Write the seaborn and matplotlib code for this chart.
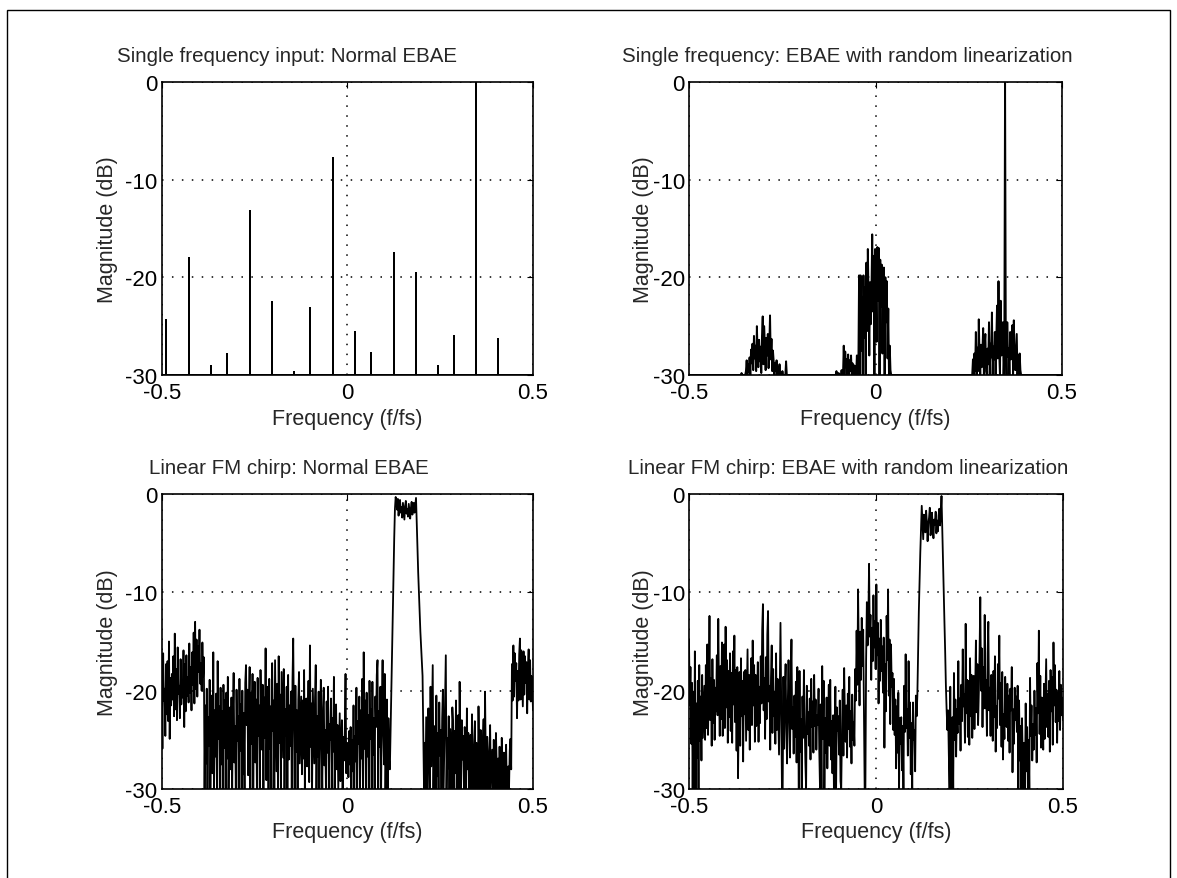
import numpy as np
import matplotlib.pyplot as plt
import seaborn as sns
from matplotlib.patches import Rectangle

# ----------------------------------------------------------------------
# Data (frequency in f/fs, magnitude in dB)
# ----------------------------------------------------------------------
FLOOR_DB = -30.0

# Panel 1: single tone, normal EBAE -> discrete spurs
spur_freq = [-0.488, -0.427, -0.367, -0.324, -0.263, -0.203, -0.143, -0.100,
             -0.039, 0.021, 0.064, 0.125, 0.184, 0.244, 0.287, 0.347, 0.407]
spur_db = [-24.4, -18.0, -29.1, -27.9, -13.2, -22.5, -29.7, -23.1,
           -7.75, -25.6, -27.7, -17.5, -19.6, -29.1, -26.0, 0.0, -26.3]

# Panel 2: single tone, random linearization (512-bin spectrum)
N_TONE = 512
tone_freq = 0.347
cluster1_start = -0.360
cluster1_db = [-29.8, -30.0, -30.0, -30.0, -30.0, -30.0, -29.6, -28.5, -30.0, -28.9, -29.7, -28.2,
               -30.0, -27.4, -28.8, -26.8, -29.5, -26.0, -28.3, -27.0, -29.6, -25.0, -27.8, -29.2,
               -26.4, -28.6, -27.1, -29.8, -26.0, -24.0, -28.9, -25.0, -27.4, -29.5, -26.2, -28.0,
               -25.8, -29.3, -27.2, -23.9, -28.4, -26.3, -29.6, -27.5, -28.6, -30.0, -28.8, -29.6,
               -28.5, -30.0, -29.2, -30.0, -28.9, -30.0, -30.0, -30.0, -29.6, -30.0, -30.0, -30.0,
               -30.0, -28.6, -30.0, -30.0]
cluster2_start = -0.105
cluster2_db = [-29.6, -30.0, -30.0, -29.8, -30.0, -30.0, -30.0, -29.5, -30.0, -30.0,
               -27.0, -30.0, -27.6, -29.2, -28.4, -30.0, -27.9, -30.0, -28.5, -29.6,
               -28.0, -30.0, -28.8, -30.0, -29.0, -30.0, -29.1, -30.0, -28.0, -30.0,
               -29.5, -19.8, -30.0, -19.8, -27.5, -22.0, -30.0, -19.8, -26.2, -21.0,
               -30.0, -18.5, -25.5, -17.1, -22.0, -28.0, -20.5, -24.8, -21.2, -15.6,
               -23.5, -17.8, -30.0, -17.1, -21.0, -26.6, -16.9, -22.4, -17.0, -30.0,
               -18.2, -23.0, -18.7, -27.8, -21.3, -19.0, -30.0, -20.0, -24.6, -20.4,
               -28.3, -23.2, -30.0, -27.0, -29.5]
cluster3_start = 0.262
cluster3_db = [-28.4, -30.0, -27.8, -29.6, -25.6, -30.0, -27.2, -29.6, -24.3, -28.1,
               -30.0, -26.9, -29.2, -27.5, -25.2, -30.0, -27.0, -25.8, -29.6, -30.0,
               -27.3, -28.9, -24.6, -30.0, -26.8, -28.2, -23.6, -30.0, -27.1, -28.4,
               -25.6, -30.0, -26.4, -22.9, -28.3, -20.4, -27.7, -30.0, -22.4, -28.0,
               -26.2, -24.6, -30.0, -27.5, -28.6, -26.9, -30.0, -24.6, -28.1, -27.3,
               -30.0, -25.6, -28.4, -27.0, -24.9, -30.0, -24.4, -28.0, -29.5, -27.6,
               -25.8, -30.0, -28.0, -30.0, -27.8, -29.5]

# Panel 3: chirp, normal EBAE (512 bins over -0.5 .. 0.5), left to right
norm_low_edge = [-17.5, -25.9, -16.2, -21.0, -19.8, -24.6, -17.3, -22.4, -17.0, -23.1,
                 -15.0, -24.9, -18.7, -21.5, -18.3, -20.9, -16.5, -22.6, -14.2, -21.9,
                 -17.8, -23.0, -15.6, -20.3, -19.5, -22.8, -16.8, -21.4, -18.9, -20.7,
                 -15.9, -23.7, -17.3, -22.1, -16.4, -20.5, -18.6, -21.2, -15.2, -20.2,
                 -17.6, -22.0, -16.1, -19.4, -14.1, -21.3, -13.0, -19.8, -14.8, -20.6,
                 -15.5, -18.1, -13.8, -19.3, -17.2, -20.0, -15.1, -18.6, -16.6]
norm_mid1 = [-30.0, -21.5, -27.4, -19.8, -30.0, -22.7, -25.6, -18.9, -30.0, -23.2,
             -20.5, -28.4, -16.1, -30.0, -22.0, -26.7, -20.3, -30.0, -17.0, -24.9,
             -21.6, -30.0, -19.7, -27.5, -22.1, -30.0, -19.4, -25.8, -21.0, -30.0,
             -20.2, -26.9, -18.6, -30.0, -23.9, -21.7, -28.0, -20.7, -30.0, -22.5,
             -18.2, -27.3, -23.6, -30.0, -19.9, -25.1, -22.6, -30.0, -18.8, -26.1,
             -21.4, -30.0, -20.0, -28.5, -22.3, -30.0, -19.2, -17.4]
norm_mid2 = [-23.5, -19.9, -28.6, -21.8, -17.6, -30.0, -20.2, -25.4, -18.3, -30.0,
             -22.4, -19.1, -27.3, -20.9, -30.0, -18.7, -24.6, -21.5, -30.0, -17.9,
             -23.3, -26.0, -19.4, -30.0, -20.7, -24.8, -15.7, -29.1, -22.1, -19.6,
             -30.0, -18.8, -25.9, -21.6, -30.0, -17.2, -24.1, -21.0, -30.0, -16.9,
             -23.0, -28.2, -19.3, -30.0, -16.5, -25.3, -20.4, -30.0, -18.1, -22.7,
             -26.8, -17.8, -30.0, -21.9, -24.6, -19.6, -30.0, -18.4, -27.0, -21.5,
             -25.6, -20.1, -30.0, -19.0, -14.7, -23.8, -30.0, -19.5, -26.2, -22.0,
             -30.0, -20.9, -18.1, -27.4]
norm_mid3 = [-23.8, -20.6, -28.5, -21.0, -26.9, -17.9, -30.0, -22.2, -20.8, -27.7,
             -24.2, -19.0, -29.3, -15.4, -25.7, -21.3, -30.0, -19.8, -23.6, -27.4,
             -20.7, -17.4, -30.0, -22.6, -26.7, -20.1, -30.0, -23.3, -18.9, -25.5,
             -30.0, -21.7, -19.7, -27.6, -24.0, -30.0, -21.1, -26.3, -19.6, -30.0,
             -23.4, -25.0, -20.8, -30.0, -22.8, -26.2, -18.6, -30.0, -24.9, -21.4,
             -28.0, -23.5, -30.0, -26.1, -22.3, -29.2, -25.8, -23.0, -30.0, -24.7,
             -27.1, -23.9, -18.3, -28.4, -25.3]
norm_mid4 = [-26.4, -28.8, -24.1, -27.5, -23.7, -30.0, -25.0, -28.2, -21.5, -30.0,
             -24.6, -27.2, -19.7, -30.0, -23.1, -25.4, -20.6, -30.0, -22.0, -26.9,
             -18.8, -30.0, -16.1, -25.9, -21.0, -30.0, -20.2, -26.7, -22.5, -30.0,
             -19.0, -24.9, -21.9, -30.0, -19.1, -26.5, -22.8, -30.0, -20.6, -23.7,
             -18.4, -16.9, -30.0, -22.1, -25.7, -19.6, -30.0, -21.4, -16.9, -24.2,
             -27.5, -18.3, -30.0, -23.5, -20.9, -30.0, -22.8, -27.1]
norm_band = [-28.0, -24.0, -20.0, -16.0, -12.0, -8.0, -4.5, -1.5,
             -0.3, -0.8, -1.6, -0.5, -2.2, -1.1, -0.6, -1.9, -1.3, -2.4,
             -0.9, -1.7, -2.6, -1.2, -0.7, -2.0, -1.5, -2.3, -1.0, -1.8,
             -2.5, -1.4, -0.8, -2.1, -1.6, -0.9, -1.9, -1.2, -0.4,
             -3.0, -5.5, -8.0, -10.0, -12.0, -14.0, -15.5, -17.0, -18.5, -24.0, -30.0]
norm_high = [-25.3, -30.0, -22.7, -26.1, -30.0, -21.8, -24.9, -30.0, -19.6, -27.7,
             -22.4, -17.4, -30.0, -23.6, -25.0, -30.0, -20.5, -28.7, -24.3, -30.0,
             -21.2, -26.6, -24.0, -30.0, -22.8, -19.9, -30.0, -25.4, -21.0, -16.4,
             -30.0, -24.8, -27.9, -22.6, -30.0, -23.9, -26.2, -30.0, -21.7, -23.3,
             -30.0, -24.1, -28.4, -21.0, -30.0, -24.2, -22.5, -30.0, -19.1, -25.8,
             -30.0, -23.0, -27.0, -24.6, -30.0, -23.7, -25.6, -30.0, -21.8, -28.0,
             -24.3, -30.0, -26.0, -24.5, -30.0, -22.4, -27.1, -30.0, -25.9, -23.1,
             -30.0, -25.3, -26.7, -30.0, -21.6, -26.8, -30.0, -24.0, -27.8, -30.0,
             -25.2, -22.9, -30.0, -20.1, -27.0, -30.0, -24.7, -26.5, -30.0, -27.2,
             -23.5, -30.0, -28.1, -26.0, -30.0, -25.0, -28.8, -30.0, -24.3, -27.4,
             -30.0, -26.9, -30.0, -25.7, -29.1, -30.0, -24.8, -27.9, -30.0, -26.3,
             -30.0, -28.6, -25.5, -30.0, -29.3, -27.7, -30.0, -26.1]
norm_high_edge = [-24.9, -28.0, -17.3, -21.0, -15.4, -20.6, -16.2, -19.0, -17.2, -22.8,
                  -18.0, -21.0, -16.3, -14.7, -20.9, -15.9, -18.8, -21.6, -16.0, -20.4,
                  -16.5, -19.2, -17.1, -22.3, -18.0, -15.8, -20.9, -16.9, -21.1, -18.5,
                  -19.6, -22.0]

# Panel 4: chirp, random linearization (512 bins over -0.5 .. 0.5), left to right
rand_r1 = [-14.8, -21.5, -17.6, -25.4, -19.2, -30.0, -20.1, -30.0, -16.0, -30.0,
           -21.3, -26.8, -19.0, -30.0, -17.4, -25.1, -20.6, -27.1, -18.4, -24.8,
           -22.0, -19.5, -25.0, -17.4, -23.8, -15.3, -24.5, -19.9, -12.4, -23.0,
           -18.7, -25.6, -16.8, -23.3, -18.9, -25.0, -19.7, -22.1]
rand_r2 = [-16.4, -22.5, -12.7, -20.1, -24.6, -17.5, -22.9, -15.1, -24.6, -19.3,
           -15.3, -23.8, -13.5, -21.7, -16.9, -25.3, -18.0, -22.7, -16.2, -24.1,
           -18.2, -25.3, -16.0, -21.4, -14.4, -23.2, -17.9, -26.1, -17.6, -28.9,
           -21.9, -18.1, -25.6, -16.7, -22.6, -19.0, -27.2, -18.1]
rand_r3 = [-22.4, -17.9, -25.1, -20.6, -15.8, -24.0, -18.4, -26.0, -19.2, -16.7,
           -23.5, -14.9, -21.5, -17.4, -25.2, -18.4, -23.6, -20.9, -17.1, -25.2,
           -19.6, -23.3, -16.5, -21.3, -13.8, -11.2, -22.0, -18.7, -24.9, -16.6,
           -22.9, -14.3, -11.9, -21.1, -19.5, -26.0, -18.7, -15.4, -24.3, -17.8,
           -22.6, -20.1, -25.4, -16.2, -24.0, -18.8, -22.6, -26.5]
rand_r4 = [-20.2, -13.1, -22.0, -30.0, -30.0, -18.6, -25.9, -20.0, -17.3, -23.8,
           -27.4, -21.2, -16.9, -22.6, -26.8, -19.0, -14.8, -23.9, -21.7, -26.4,
           -20.5, -24.7, -19.1, -27.3, -17.6, -22.3, -30.0, -18.0, -26.2, -22.9,
           -30.0, -20.6, -24.8, -17.9, -23.0, -27.3, -30.0, -19.5, -24.4, -22.2,
           -25.6, -20.8, -27.0, -18.8, -23.7, -21.1, -26.3, -18.4, -23.6, -20.9,
           -26.0, -22.5]
rand_r5 = [-23.5, -19.8, -26.1, -30.0, -21.4, -30.0, -17.5, -24.9, -19.0, -30.0,
           -22.8, -26.3, -20.7, -27.9, -23.2, -19.4, -25.6, -18.9, -27.0, -23.1,
           -28.4, -22.5, -30.0, -25.8, -19.6, -30.0, -21.7, -24.1, -22.6, -26.5,
           -21.0, -29.2, -30.0, -24.0, -19.9, -26.6, -17.7, -22.8, -25.2, -21.5,
           -26.8, -20.3, -23.9, -18.6, -25.7, -22.1, -27.4, -20.4, -25.0, -23.2]
rand_r6 = [-25.6, -17.8, -21.0, -13.9, -19.4, -9.7, -16.2, -21.5, -14.0, -18.9,
           -12.6, -17.5, -13.8, -21.9, -30.0, -30.0, -16.8, -11.0, -15.4, -13.2,
           -7.1, -14.5, -12.3, -18.9, -13.6, -17.0, -10.3, -15.6, -12.9, -17.8]
rand_r7 = [-9.2, -16.4, -13.1, -21.3, -14.7, -19.0, -12.8, -18.0, -15.5, -20.2,
           -14.6, -25.8, -17.3, -22.1, -12.4, -16.9, -9.7, -20.5, -14.8, -23.4,
           -15.3, -19.6, -18.2, -24.0]
rand_r8 = [-18.8, -24.5, -20.9, -27.9, -21.6, -26.3, -20.2, -30.0, -22.8, -25.4,
           -22.7, -28.1, -23.6, -30.0, -19.5, -24.2, -16.3, -23.8, -21.9, -26.6,
           -17.0, -24.8, -21.2, -28.5, -23.3, -30.0, -21.2, -25.0, -24.0, -28.2,
           -20.5, -22.6]
rand_band = [-20.5, -16.0, -12.0, -9.0, -6.0, -3.5, -1.2,
             -2.8, -4.6, -2.1, -3.3, -3.9, -1.7, -2.9, -4.8, -3.0, -2.4, -1.4, -4.2, -3.6,
             -1.9, -3.4, -4.5, -2.6, -3.1, -1.8, -4.0, -2.7, -3.8, -2.2, -1.5, -3.2, -2.0,
             -0.2, -3.5, -6.5, -10.0, -13.0, -16.0, -19.5, -22.0, -24.0]
rand_r10 = [-22.0, -26.5, -30.0, -19.6, -30.0, -24.1, -22.7, -30.0, -18.2, -25.0,
            -20.9, -26.7, -21.9, -24.3, -17.0, -23.4, -20.8, -26.1, -19.4, -23.1,
            -15.8, -21.6, -20.4, -25.3, -13.2, -22.3, -18.9, -24.7, -19.0, -25.5,
            -16.7, -22.6, -18.4, -24.8, -21.3, -18.5, -23.9, -20.1, -14.9, -22.2,
            -17.3, -23.5, -20.2, -16.1, -10.5, -20.0, -15.7, -23.7, -17.6, -21.8]
rand_r11 = [-12.3, -21.8, -18.9, -24.6, -16.2, -13.0, -22.0, -19.7, -24.6, -18.4,
            -21.3, -25.1, -18.0, -22.7, -16.5, -26.2, -21.6, -23.8, -17.3, -20.8,
            -14.4, -23.5, -19.2, -25.7, -18.1, -27.0, -22.4, -24.9, -18.6, -21.4,
            -23.7, -19.3, -25.1, -20.5, -26.3, -19.8, -22.0, -17.6, -28.3, -21.9,
            -25.4, -19.7, -23.0, -20.6]
rand_r12 = [-24.2, -19.5, -30.0, -21.0, -27.1, -23.6, -30.0, -22.8, -26.9, -30.0,
            -25.3, -30.0, -21.3, -28.2, -23.7, -30.0, -25.0, -30.0, -18.7, -24.6,
            -21.5, -27.1, -23.4, -26.0, -20.0, -24.5, -21.8, -27.3, -17.2, -22.3,
            -13.9, -24.4, -18.5, -25.8, -20.7, -22.6, -26.0, -19.3, -24.9, -21.1,
            -16.8, -23.7, -20.3, -24.7, -19.0, -26.2, -17.9, -22.1, -18.6, -25.5,
            -15.1, -21.5, -17.4, -23.2, -19.9, -25.3, -20.2, -23.1, -18.0, -24.0,
            -19.4, -22.5, -20.7, -23.0]

titles = ["Single frequency input: Normal EBAE",
          "Single frequency: EBAE with random linearization",
          "Linear FM chirp: Normal EBAE",
          "Linear FM chirp: EBAE with random linearization"]

# ----------------------------------------------------------------------
# Build the series
# ----------------------------------------------------------------------
# spurs: floor -> peak -> floor at each spur frequency
spur_x, spur_y = [-0.5], [FLOOR_DB]
for f, d in zip(spur_freq, spur_db):
    spur_x += [f, f, f]
    spur_y += [FLOOR_DB, d, FLOOR_DB]
spur_x.append(0.5)
spur_y.append(FLOOR_DB)

tone_f = np.linspace(-0.5, 0.5, N_TONE)
tone_db = np.full(N_TONE, FLOOR_DB)
for start, vals in [(cluster1_start, cluster1_db),
                    (cluster2_start, cluster2_db),
                    (cluster3_start, cluster3_db)]:
    i0 = int(round((start + 0.5) * (N_TONE - 1)))
    tone_db[i0:i0 + len(vals)] = vals
tone_db[int(round((tone_freq + 0.5) * (N_TONE - 1)))] = 0.0

chirp_norm = np.array(norm_low_edge + norm_mid1 + norm_mid2 + norm_mid3 + norm_mid4
                      + norm_band + norm_high + norm_high_edge)
chirp_rand = np.array(rand_r1 + rand_r2 + rand_r3 + rand_r4 + rand_r5 + rand_r6
                      + rand_r7 + rand_r8 + rand_band + rand_r10 + rand_r11 + rand_r12)
chirp_norm_f = np.linspace(-0.5, 0.5, len(chirp_norm))
chirp_rand_f = np.linspace(-0.5, 0.5, len(chirp_rand))

series = [(spur_x, spur_y), (tone_f, tone_db),
          (chirp_norm_f, chirp_norm), (chirp_rand_f, chirp_rand)]
line_w = [1.4, 1.4, 1.3, 1.3]

# ----------------------------------------------------------------------
# Plot
# ----------------------------------------------------------------------
sns.set_style("white")
plt.rcParams["font.family"] = ["Liberation Sans", "DejaVu Sans"]

W, H = 1177, 879
fig = plt.figure(figsize=(W / 100, H / 100), dpi=100)
fig.patch.set_facecolor("white")

# axes boxes in pixels: left, top, right, bottom
boxes = [(161.7, 83, 533, 376), (689, 83, 1062, 376),
         (161.7, 495, 533, 790), (689, 495, 1063, 790)]
title_cx = [287, 847, 289, 848]
title_base = [61.5, 61.5, 474, 474]
ylabel_cx = [107, 643, 107, 643]

for k, ((l, t, r, b), (x, y)) in enumerate(zip(boxes, series)):
    ax = fig.add_axes([l / W, 1 - b / H, (r - l) / W, (b - t) / H])
    sns.lineplot(x=x, y=y, ax=ax, color="black", linewidth=line_w[k],
                 estimator=None, sort=False)
    ax.set_xlim(-0.5, 0.5)
    ax.set_ylim(-30, 0)
    ax.set_xticks([-0.5, 0, 0.5])
    ax.set_xticklabels(["-0.5", "0", "0.5"])
    ax.set_yticks([-30, -20, -10, 0])
    ax.set_yticklabels(["-30", "-20", "-10", "0"])
    ax.tick_params(direction="in", length=4, width=0.8, top=True, right=True,
                   labelsize=16, colors="black")
    ax.tick_params(axis="x", pad=5)
    ax.tick_params(axis="y", pad=3)
    ax.grid(True, color="black", linewidth=1.1, linestyle=(0, (1, 5.5)))
    for s in ax.spines.values():
        s.set_visible(True)
        s.set_color("black")
        s.set_linewidth(1.2)

    ax.set_xlabel("Frequency (f/fs)", fontsize=15.5, va="center")
    ax.xaxis.set_label_coords(0.5, -43 / (b - t))
    ax.set_ylabel("Magnitude (dB)", fontsize=15.5, va="center")
    ax.yaxis.set_label_coords((ylabel_cx[k] - l) / (r - l), 0.5)

    fig.text(title_cx[k] / W, 1 - title_base[k] / H, titles[k],
             fontsize=14.8, ha="center", va="baseline")

# thin frame round the page
fig.add_artist(Rectangle((7 / W, -0.05), (1170 - 7) / W, 1.05 - 11 / H,
                         transform=fig.transFigure, fill=False,
                         edgecolor="black", linewidth=1.0))

fig.savefig("out.png", dpi=100, facecolor="white")
plt.close(fig)
